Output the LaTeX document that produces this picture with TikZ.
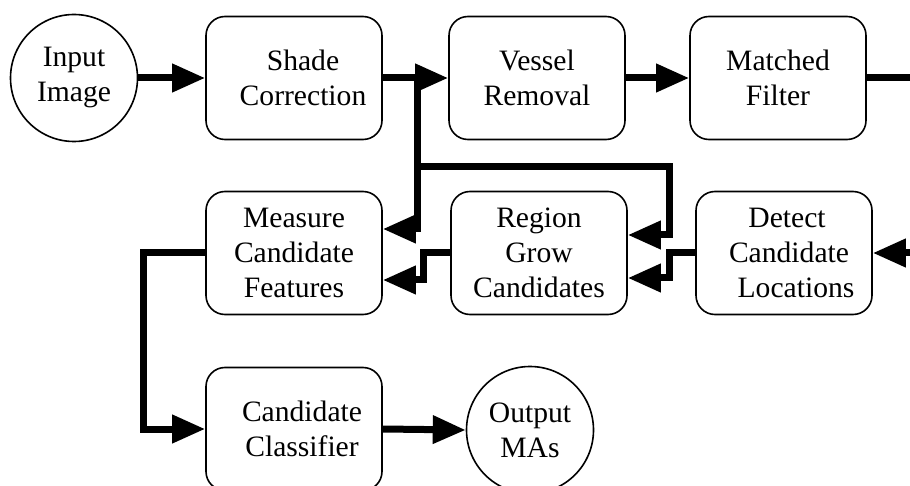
\documentclass[tikz,border=0pt]{standalone}
\usepackage{fontspec}
\setmainfont{Liberation Serif}
\usetikzlibrary{arrows.meta}
\begin{document}
\begin{tikzpicture}[x=1pt,y=-1pt,
  lbl/.style={font=\fontsize{29.6}{35}\selectfont},
  box/.style={lbl, draw, line width=1.6pt, rounded corners=19pt, minimum width=176pt, minimum height=123pt, align=center, inner sep=0pt},
  term/.style={lbl, draw, circle, line width=1.6pt, minimum size=127pt, align=center, inner sep=0pt},
  conn/.style={line width=7pt, -{Triangle[length=33pt,width=27pt]}},
  wire/.style={line width=7pt}]
\useasboundingbox (0,0) rectangle (910,486);
\clip (0,0) rectangle (910,486);
% nodes
\node[term] (input) at (74,78) {Input\\Image};
\node[box] (shade) at (294,78) {\hspace{18pt}Shade\\\hspace{18pt}Correction};
\node[box] (vessel) at (537,78) {Vessel\\Removal};
\node[box] (matched) at (778,78) {Matched\\Filter};
\node[box] (measure) at (294,253) {Measure\\Candidate\\Features};
\node[box] (region) at (539,253) {Region\\Grow\\Candidates};
\node[box] (detect) at (784,253) {\hspace{6pt}Detect\\\hspace{10pt}Candidate\\\hspace{24pt}Locations};
\node[box] (classifier) at (294,429) {\hspace{16pt}Candidate\\\hspace{16pt}Classifier};
\node[term] (output) at (530,430) {Output\\MAs};
% helper coordinates
\coordinate (j1) at (417,78);
\coordinate (j2) at (669,167);
\coordinate (r1) at (925,78);
\coordinate (r2) at (925,253);
% connectors
\draw[conn] (input.east) -- (shade.west);
\draw[conn] (shade.east) -- (vessel.west);
\draw[conn] (vessel.east) -- (matched.west);
\draw[wire] (matched.east) -- (r1);
\draw[conn] (r2) -- (detect.east);
\draw[conn] (j1) |- ([yshift=24pt]measure.east);
\draw[conn] (j1) |- (j2) |- ([yshift=18pt]region.east);
\draw[conn] (detect.west) -- ++(-26,0) |- ([yshift=-25pt]region.east);
\draw[conn] (region.west) -- ++(-27,0) |- ([yshift=-27pt]measure.east);
\draw[conn] (measure.west) -- ++(-62,0) |- (classifier.west);
\draw[conn] (classifier.east) -- (output.west);
\end{tikzpicture}
\end{document}
